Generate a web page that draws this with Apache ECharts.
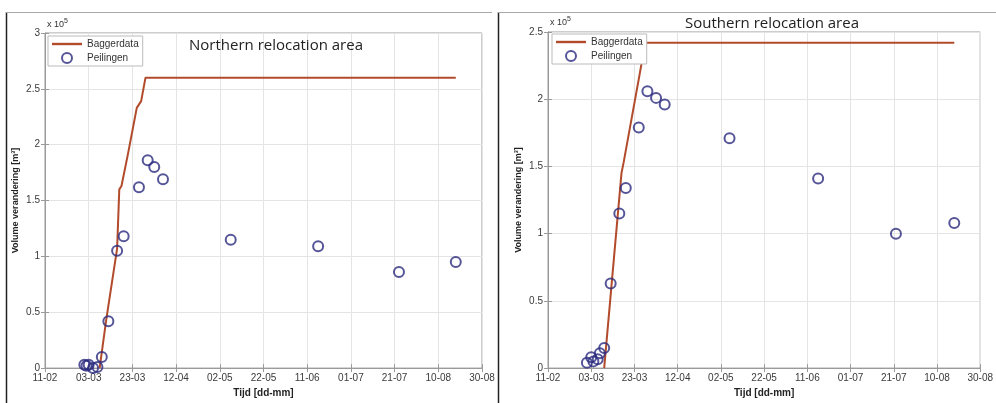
<!DOCTYPE html>
<html>
<head>
<meta charset="utf-8">
<script src="https://cdn.jsdelivr.net/npm/echarts@6/dist/echarts.min.js"></script>
<style>
  html, body { margin: 0; padding: 0; background: #fff; }
  #chart { width: 996px; height: 403px; }
</style>
</head>
<body>
<div id="chart"></div>
<script>
// volumes in units of 10^5 m3, dates as dd-mm (2011)
const northDredgeDates = ["08-03", "11-03", "16-03", "17-03", "18-03", "21-03", "25-03", "27-03", "29-03", "18-08"];
const northDredgeVol = [0, 0.43, 1.07, 1.6, 1.63, 1.92, 2.33, 2.39, 2.6, 2.6];
const northSurveyDates = ["01-03", "02-03", "03-03", "05-03", "07-03", "09-03", "12-03", "16-03", "19-03", "26-03", "30-03", "02-04", "06-04", "07-05", "16-06", "23-07", "18-08"];
const northSurveyVol = [0.03, 0.02, 0.03, 0.0, 0.01, 0.1, 0.42, 1.05, 1.18, 1.62, 1.86, 1.8, 1.69, 1.15, 1.09, 0.86, 0.95];

const southDredgeDates = ["09-03", "17-03", "18-03", "25-03", "28-03", "18-08"];
const southDredgeVol = [0, 1.45, 1.53, 2.15, 2.42, 2.42];
const southSurveyDates = ["01-03", "03-03", "04-03", "06-03", "07-03", "09-03", "12-03", "16-03", "19-03", "25-03", "29-03", "02-04", "06-04", "06-05", "16-06", "22-07", "18-08"];
const southSurveyVol = [0.04, 0.08, 0.05, 0.065, 0.11, 0.15, 0.63, 1.15, 1.34, 1.79, 2.06, 2.01, 1.96, 1.71, 1.41, 1.0, 1.08];

const xTickLabels = ["11-02", "03-03", "23-03", "12-04", "02-05", "22-05", "11-06", "01-07", "21-07", "10-08", "30-08"];
const titles = ["Northern relocation area", "Southern relocation area"];
const yMax = [3, 2.5];

const origin = Date.UTC(2011, 1, 11);
const toDay = (s) => {
    const [d, m] = s.split("-").map(Number);
    return (Date.UTC(2011, m - 1, d) - origin) / 86400000;
};
const pairs = (dates, vals) => dates.map((d, i) => [toDay(d), vals[i]]);

const lineColor = "#b24b2b";
const dotColor = "#2a2a7e";
const gridColor = "#e4e4e4";
const boxColor = "#9a9a9a";
const font = "Liberation Sans, Arial, sans-serif";

const grids = [
    { left: 45, top: 33, width: 437, height: 343 },
    { left: 548, top: 32, width: 437, height: 346 },
];

const xAxes = [];
const yAxes = [];
grids.forEach((g, i) => {
    xAxes.push({
        type: "value", gridIndex: i, min: 0, max: 200, interval: 20,
        axisLine: { show: true, lineStyle: { color: boxColor } },
        axisTick: { inside: true, length: 4, lineStyle: { color: boxColor } },
        axisLabel: {
            color: "#3a3a3a", fontSize: 10, fontFamily: font, margin: 5,
            formatter: (v) => xTickLabels[Math.round(v / 20)],
        },
        splitLine: { show: true, lineStyle: { color: gridColor } },
        name: "Tijd [dd-mm]", nameLocation: "middle", nameGap: 19,
        nameTextStyle: { fontSize: 10, fontWeight: "bold", color: "#222", fontFamily: font },
    });
    xAxes.push({
        type: "value", gridIndex: i, min: 0, max: 200, interval: 20, position: "top",
        axisLine: { show: false }, axisLabel: { show: false }, splitLine: { show: false },
        axisTick: { inside: true, length: 4, lineStyle: { color: boxColor } },
    });
    yAxes.push({
        type: "value", gridIndex: i, min: 0, max: yMax[i], interval: 0.5,
        axisLine: { show: true, lineStyle: { color: boxColor } },
        axisTick: { inside: true, length: 4, lineStyle: { color: boxColor } },
        axisLabel: { color: "#3a3a3a", fontSize: 10, fontFamily: font, margin: 5 },
        splitLine: { show: true, lineStyle: { color: gridColor } },
        name: "Volume verandering [m³]", nameLocation: "middle", nameGap: 25, nameRotate: 90,
        nameTextStyle: { fontSize: 9, fontWeight: "bold", color: "#222", fontFamily: font },
    });
    yAxes.push({
        type: "value", gridIndex: i, min: 0, max: yMax[i], interval: 0.5, position: "right",
        axisLine: { show: false }, axisLabel: { show: false }, splitLine: { show: false },
        axisTick: { inside: true, length: 4, lineStyle: { color: boxColor } },
    });
});

const lineSeries = (data, i) => ({
    name: "Baggerdata", type: "line", xAxisIndex: i * 2, yAxisIndex: i * 2,
    data, symbol: "none", z: 2,
    lineStyle: { color: lineColor, width: 2 }, itemStyle: { color: lineColor },
});
const dotSeries = (data, i) => ({
    name: "Peilingen", type: "scatter", xAxisIndex: i * 2, yAxisIndex: i * 2,
    data, symbol: "circle", symbolSize: 10, z: 3,
    itemStyle: { color: "rgba(0,0,0,0)", borderColor: dotColor, borderWidth: 2 },
});

const legendAt = (left, top) => ({
    left, top, orient: "vertical", itemGap: 3, itemWidth: 30, itemHeight: 10,
    padding: [3, 4, 2, 4], borderColor: "#bbb", borderWidth: 1, backgroundColor: "#fff",
    textStyle: { fontSize: 10, color: "#333", fontFamily: font },
    data: [
        { name: "Baggerdata", icon: "path://M0,0 L30,0 L30,2.4 L0,2.4 Z" },
        { name: "Peilingen" },
    ],
});

const exponent = (x, y) => ({
    type: "text", left: x, top: y,
    style: {
        text: "x 10{s|5}", fill: "#333", fontSize: 9, fontFamily: font,
        rich: { s: { fontSize: 7, verticalAlign: "top", padding: [0, 0, 6, 0] } },
    },
});

const chart = echarts.init(document.getElementById("chart"));
chart.setOption({
    animation: false,
    backgroundColor: "#fff",
    title: [
        { text: titles[0], left: 184, top: 33, textStyle: { fontSize: 15, fontWeight: "normal", color: "#222", fontFamily: "Open Sans, sans-serif" } },
        { text: titles[1], left: 680, top: 11, textStyle: { fontSize: 15, fontWeight: "normal", color: "#222", fontFamily: "Open Sans, sans-serif" } },
    ],
    legend: [legendAt(48, 36), legendAt(552, 34)],
    grid: grids.map((g) => ({ ...g, show: true, borderColor: boxColor, borderWidth: 1, backgroundColor: "#fff" })),
    xAxis: xAxes,
    yAxis: yAxes,
    series: [
        lineSeries(pairs(northDredgeDates, northDredgeVol), 0),
        dotSeries(pairs(northSurveyDates, northSurveyVol), 0),
        lineSeries(pairs(southDredgeDates, southDredgeVol), 1),
        dotSeries(pairs(southSurveyDates, southSurveyVol), 1),
    ],
    graphic: [
        { type: "line", shape: { x1: 6.5, y1: 12, x2: 6.5, y2: 403 }, style: { stroke: "#222", lineWidth: 1.5 } },
        { type: "line", shape: { x1: 6, y1: 12.5, x2: 492, y2: 12.5 }, style: { stroke: "#aaa", lineWidth: 1 } },
        { type: "line", shape: { x1: 498.5, y1: 12, x2: 498.5, y2: 403 }, style: { stroke: "#222", lineWidth: 1.5 } },
        { type: "line", shape: { x1: 498, y1: 12.5, x2: 996, y2: 12.5 }, style: { stroke: "#aaa", lineWidth: 1 } },
        exponent(47, 18),
        exponent(550, 16),
    ],
});
</script>
</body>
</html>
